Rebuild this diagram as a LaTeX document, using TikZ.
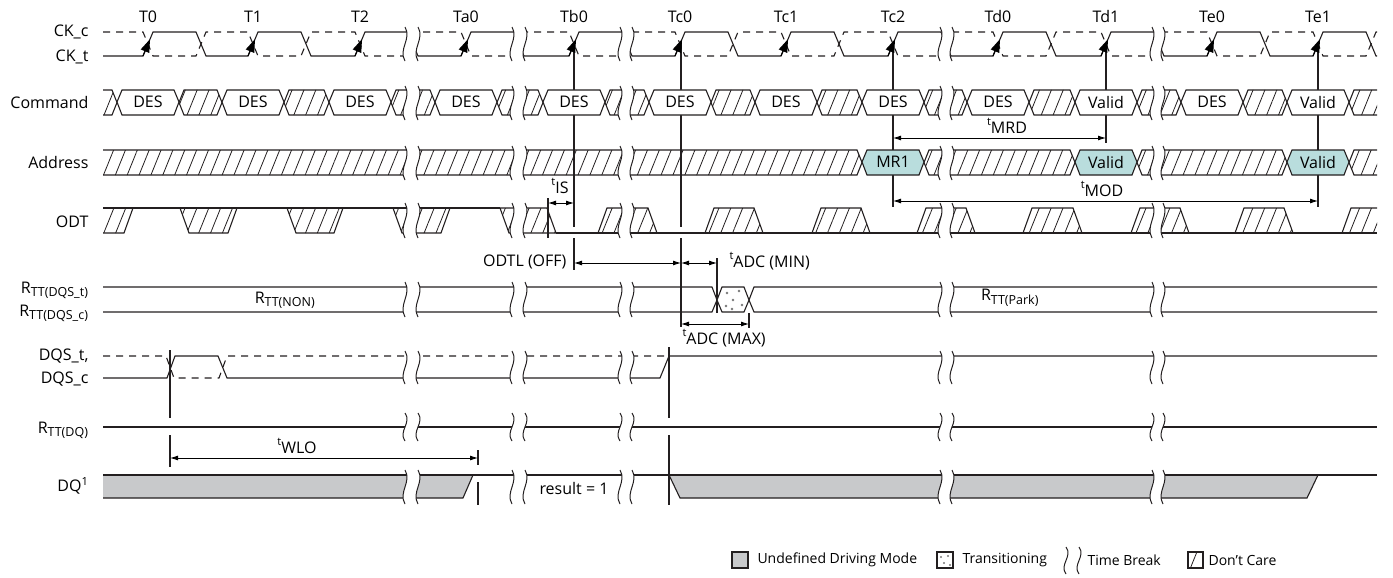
\documentclass[tikz,border=0pt]{standalone}
\usepackage{fontspec}
\setmainfont{Open Sans}
\usetikzlibrary{arrows.meta,patterns.meta}

\definecolor{sigline}{RGB}{35,31,32}
\definecolor{undefgray}{RGB}{200,201,203}
\definecolor{validteal}{RGB}{185,221,221}
\definecolor{dotgray}{RGB}{120,120,120}

\tikzset{
  wave/.style={line width=1.1pt, draw=sigline},
  dashwave/.style={wave, dash pattern=on 7pt off 6pt},
  dontcare/.style={wave, pattern={Lines[angle=68,distance=11pt,line width=0.8pt]}, pattern color=sigline},
  buscell/.style={wave, fill=white},
  validcell/.style={wave, fill=validteal},
  undefined/.style={wave, fill=undefgray},
  timeline/.style={line width=1.1pt, draw=sigline},
  meas/.style={line width=0.9pt, {Latex[length=8pt,width=5pt]}-{Latex[length=8pt,width=5pt]}},
  edgearrow/.style={line width=1.1pt, -{Triangle[length=13pt,width=9pt]}},
  sig/.style={anchor=east},
  brk/.style={line width=1pt, draw=sigline},
  legend/.style={anchor=west, font=\fontsize{14}{17}\selectfont},
}

% t-parameter label
\newcommand\tp[1]{\raisebox{0.7ex}{\fontsize{11}{11}\selectfont t}\raisebox{-0.3ex}{#1}}
% subscript of an R name
\newcommand\rsub[1]{\textsubscript{\fontsize{12.5}{12.5}\selectfont #1}}
% hatched bus cell between two crossing points
\newcommand\dccell[4]{\draw[dontcare] (#1,{(#3+#4)/2}) -- (#1+5,#3) -- (#2-5,#3) -- (#2,{(#3+#4)/2}) -- (#2-5,#4) -- (#1+5,#4) -- cycle;}
% time break: two wavy lines with the signal cut out between them
\newcommand\tbreak[4]{%
  \pgfmathsetmacro\ba{#3+0.35*(#4-#3)}\pgfmathsetmacro\bb{#3+0.65*(#4-#3)}%
  \fill[white] (#1,#3) .. controls (#1+7,\ba) and (#1-7,\bb) .. (#1,#4) -- (#2,#4) .. controls (#2-7,\bb) and (#2+7,\ba) .. (#2,#3) -- cycle;
  \draw[brk] (#1,#3) .. controls (#1+7,\ba) and (#1-7,\bb) .. (#1,#4);
  \draw[brk] (#2,#3) .. controls (#2+7,\ba) and (#2-7,\bb) .. (#2,#4);}

\begin{document}
\begin{tikzpicture}[x=1pt,y=-1pt,font=\fontsize{16}{19}\selectfont]
\useasboundingbox (0,0) rectangle (1393,578);
\def\Rs{148,253,360,466,574,680,786,893,998,1106,1212,1318}

% signal names
\node[sig] (ckc)   at (92,32)  {CK\_c};
\node[sig] (ckt)   at (92,57)  {CK\_t};
\node[sig] (cmd)   at (92,102) {Command};
\node[sig] (addr)  at (92,162) {Address};
\node[sig] (odt)   at (92,222) {ODT};
\node[sig] (rttt)  at (92,290) {R\rsub{TT(DQS\_t)}};
\node[sig] (rttc)  at (92,313) {R\rsub{TT(DQS\_c)}};
\node[sig] (dqst)  at (92,356) {DQS\_t,};
\node[sig] (dqsc)  at (92,379) {DQS\_c};
\node[sig] (rttdq) at (92,430) {R\rsub{TT(DQ)}};
\node[sig] (dq)    at (92,486) {DQ\textsuperscript{1}};

% clock edge names
\foreach \x/\t in {148/T0,253/T1,360/T2,466/Ta0,574/Tb0,680/Tc0,786/Tc1,893/Tc2,998/Td0,1106/Td1,1212/Te0,1318/Te1}
  \node (\t) at (\x,17) {\t};

% reference lines
\draw[timeline] (574,44) -- (574,227) (574,238) -- (574,270);
\draw[timeline] (681,44) -- (681,227) (681,238) -- (681,327);
\draw[timeline] (893,44) -- (893,207);
\draw[timeline] (1106,44) -- (1106,143);
\draw[timeline] (1318,44) -- (1318,207);
\draw[timeline] (170,350) -- (170,418) (170,435) -- (170,467);
\draw[timeline] (669,347) -- (669,418) (669,435) -- (669,505);
\draw[timeline] (548,198) -- (548,238);
\draw[timeline] (717,258) -- (717,313);
\draw[timeline] (749,313) -- (749,328);
\draw[timeline] (478,450) -- (478,465) (478,482) -- (478,505);

\begin{scope}
\clip (103,0) rectangle (1377,520);
% clock
\draw[wave] (103,56) \foreach \x in \Rs {-- (\x-5,56) -- (\x+5,32) -- (\x+48,32) -- (\x+58,56)} -- (1377,56);
\draw[dashwave] (103,32) \foreach \x in \Rs {-- (\x-5,32) -- (\x+5,56) -- (\x+48,56) -- (\x+58,32)} -- (1377,32);
\foreach \x in \Rs
  \draw[edgearrow] (\x-5,56) -- (\x+2,39.2);

% command bus
\foreach \a/\b in {11/117,179/222,284/329,391/435,497/543,605/649,711/755,817/862,924/967,1029/1075,1137/1181,1243/1287,1349/1420}
  {\dccell{\a}{\b}{90}{115}}
\foreach \x/\c [count=\i] in {148/DES,253/DES,360/DES,466/DES,574/DES,680/DES,786/DES,893/DES,998/DES,1106/Valid,1212/DES,1318/Valid} {
  \draw[buscell] (\x-31,102) -- (\x-26,90) -- (\x+26,90) -- (\x+31,102) -- (\x+26,115) -- (\x-26,115) -- cycle;
  \node (cmd\i) at (\x,102) {\c};
}

% address bus
\foreach \a/\b in {11/862,924/1075,1137/1287,1349/1420}
  {\dccell{\a}{\b}{150}{175}}
\foreach \x/\c [count=\i] in {893/MR1,1106/Valid,1318/Valid} {
  \draw[validcell] (\x-31,162) -- (\x-26,150) -- (\x+26,150) -- (\x+31,162) -- (\x+26,175) -- (\x-26,175) -- cycle;
  \node (addr\i) at (\x,162) {\c};
}

% ODT
\foreach \a/\b in {74/133,180/237,287/343,393/450}
  \draw[dontcare] (\a,208) -- (\a+9,233) -- (\b-9,233) -- (\b,208);
\draw[dontcare] (500,208) -- (509,233) -- (556,233) -- (547,208) -- cycle;
\foreach \a/\b in {598/657,705/763,812/870,917/975,1023/1082,1131/1189,1235/1293,1342/1400}
  \draw[dontcare] (\a,233) -- (\a+9,208) -- (\b-9,208) -- (\b,233);
\draw[wave] (103,208) -- (500,208) (556,233) -- (1377,233);

% RTT on DQS
\draw[wave] (103,287) -- (712,287) -- (717,300) -- (712,312) -- (103,312);
\draw[wave] (1377,287) -- (754,287) -- (749,300) -- (754,312) -- (1377,312);
\draw[wave, fill=white] (717,300) -- (722,287) -- (744,287) -- (749,300) -- (744,312) -- (722,312) -- cycle;
\foreach \p in {(727,293),(739,291),(733,300),(726,306),(742,305),(732,309)}
  \fill[dotgray] \p circle[radius=1.3pt];
\node (rttnon) at (285,300) {R\rsub{TT(NON)}};
\node (rttpark) at (1010,298) {R\rsub{TT(Park)}};

% DQS
\draw[wave] (103,378) -- (167,378) -- (175,356) -- (218,356) -- (227,378) -- (660,378) -- (669,356) -- (1377,356);
\draw[dashwave] (103,356) -- (166,356) -- (174,378) -- (219,378) -- (227,356) -- (669,356);

% RTT on DQ
\draw[wave] (103,427) -- (1377,427);

% DQ
\draw[undefined] (103,475) -- (473,475) -- (463,498) -- (103,498);
\draw[undefined] (669,475) -- (1318,475) -- (1307,498) -- (680,498) -- cycle;
\draw[wave] (103,475) -- (1377,475);
\node (result) at (574,488) {result = 1};
\end{scope}

% time breaks
\foreach \a/\b in {405/418,512/525,620/632,940/952,1152/1163}
  \foreach \t/\u in {27/61,86/120,146/180,203/238,282/317,351/384,413/441,470/504}
    {\tbreak{\a}{\b}{\t}{\u}}

% timing parameters
\draw[meas] (548,203) -- (574,203);
\node (tis) at (560,186) {\tp{IS}};
\draw[meas] (574,263) -- (681,263);
\node[anchor=east] (odtl) at (570,262) {ODTL (OFF)};
\draw[meas] (681,263) -- (717,263);
\node[anchor=west] (adcmin) at (726,261) {\tp{ADC (MIN)}};
\draw[meas] (681,324) -- (749,324);
\node[anchor=west] (adcmax) at (679,338) {\tp{ADC (MAX)}};
\draw[meas] (893,138) -- (1106,138);
\node (mrd) at (1007,126) {\tp{MRD}};
\draw[meas] (893,201) -- (1318,201);
\node (mod) at (1102,189) {\tp{MOD}};
\draw[meas] (170,458) -- (478,458);
\node (wlo) at (297,446) {\tp{WLO}};

% legend
\draw[undefined] (732,552) rectangle (748,568);
\node[legend] (lgundef) at (754,560) {Undefined Driving Mode};
\draw[wave] (937,552) rectangle (953,568);
\foreach \p in {(941,557),(948,556),(944,563),(950,565)}
  \fill[dotgray] \p circle[radius=1.1pt];
\node[legend] (lgtrans) at (959,560) {Transitioning};
\tbreak{1066}{1079}{547}{574}
\node[legend] (lgbreak) at (1084,560) {Time Break};
\draw[dontcare] (1188,552) rectangle (1203,568);
\node[legend] (lgdc) at (1205,560) {Don't Care};
\end{tikzpicture}
\end{document}
